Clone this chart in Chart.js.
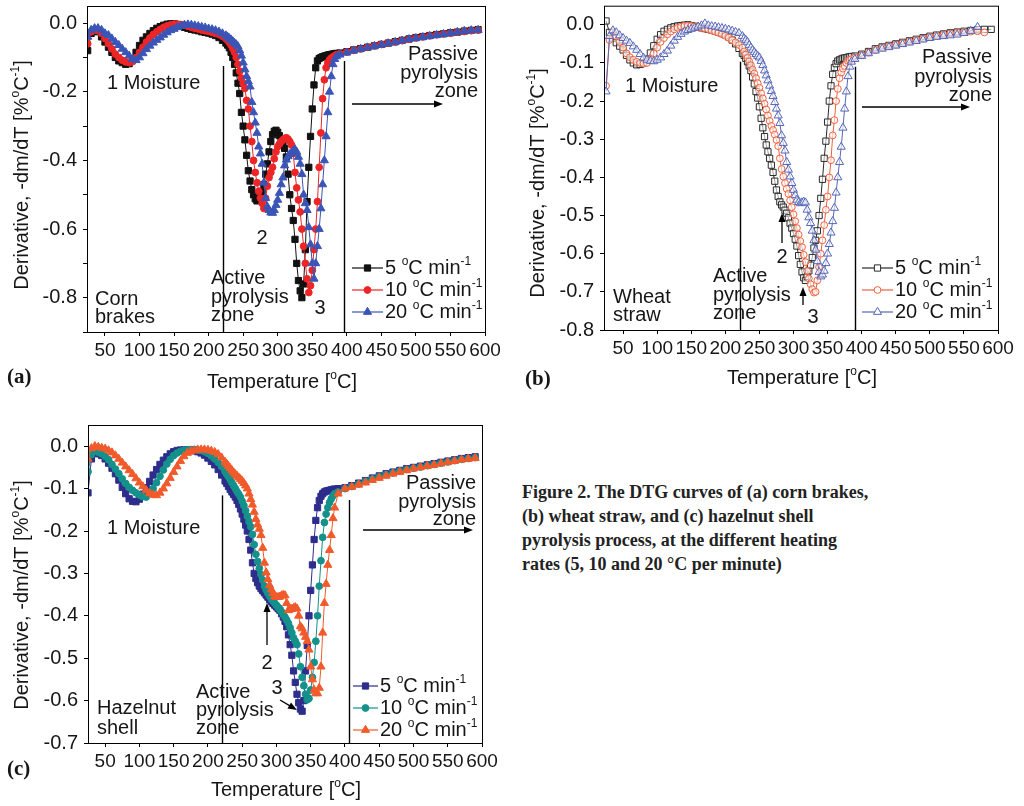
<!DOCTYPE html>
<html>
<head>
<meta charset="utf-8">
<script src="https://cdn.jsdelivr.net/npm/chart.js@4.4.0/dist/chart.umd.min.js"></script>
<style>
  body { margin: 0; background: #fff; width: 1024px; height: 806px; position: relative; overflow: hidden; }
  canvas { position: absolute; }
  #caption { position: absolute; left: 522px; top: 480px; font: bold 18px "Liberation Serif", "Times New Roman", serif; line-height: 24px; color: #222; }
</style>
</head>
<body>
<canvas id="chartA" width="510" height="400" style="left:0;top:0"></canvas>
<canvas id="chartB" width="514" height="400" style="left:510px;top:0"></canvas>
<canvas id="chartC" width="510" height="406" style="left:0;top:400px"></canvas>
<div id="caption">Figure 2. The DTG curves of (a) corn brakes,<br>(b) wheat straw, and (c) hazelnut shell<br>pyrolysis process, at the different heating<br>rates (5, 10 and 20 °C per minute)</div>
<script>
// temperature grid (°C), same for all curves
const TEMP = [
  25,30,35,40,45,50,55,60,65,70,
  75,80,85,90,95,100,105,110,115,120,
  125,130,135,140,145,150,155,160,165,170,
  175,180,185,190,195,200,205,210,215,220,
  225,
  227.5,230,232.5,235,237.5,240,242.5,245,
  247.5,250,252.5,255,257.5,260,262.5,265,
  267.5,270,272.5,275,277.5,280,282.5,285,
  287.5,290,292.5,295,297.5,300,302.5,305,
  307.5,310,312.5,315,317.5,320,322.5,325,
  327.5,330,332.5,335,337.5,340,342.5,345,
  347.5,350,352.5,355,357.5,360,362.5,365,
  367.5,370,372.5,375,377.5,380,382.5,385,
  390,400,410,420,430,440,450,460,470,480,
  490,500,510,520,530,540,550,560,570,580,
  590
];

const RATES = ['5', '10', '20'];
const X_TICKS = [50,100,150,200,250,300,350,400,450,500,550,600];
const Y_TICKS_A = [0,-0.1,-0.2,-0.3,-0.4,-0.5,-0.6,-0.7,-0.8,-0.9];
const Y_TICKS_B = [0,-0.05,-0.1,-0.15,-0.2,-0.25,-0.3,-0.35,-0.4,-0.45,-0.5,-0.55,-0.6,-0.65,-0.7,-0.75,-0.8];
const Y_TICKS_C = [0,-0.05,-0.1,-0.15,-0.2,-0.25,-0.3,-0.35,-0.4,-0.45,-0.5,-0.55,-0.6,-0.65,-0.7];

// (a) corn brakes
const CORN_5 = [
  -0.08,-0.03,-0.02,-0.025,-0.04,-0.055,-0.07,-0.085,-0.1,-0.11,
  -0.115,-0.12,-0.118,-0.105,-0.085,-0.065,-0.05,-0.04,-0.03,-0.022,
  -0.015,-0.01,-0.006,-0.003,-0.002,-0.002,-0.004,-0.008,-0.012,-0.015,
  -0.018,-0.02,-0.022,-0.025,-0.027,-0.029,-0.032,-0.036,-0.042,-0.05,
  -0.058,
  -0.064,-0.072,-0.085,-0.1,-0.12,-0.145,-0.175,-0.205,
  -0.26,-0.3,-0.34,-0.385,-0.43,-0.46,-0.485,-0.5,
  -0.512,-0.518,-0.515,-0.505,-0.49,-0.47,-0.44,-0.41,
  -0.375,-0.345,-0.325,-0.315,-0.312,-0.318,-0.328,-0.34,
  -0.35,-0.365,-0.39,-0.44,-0.5,-0.54,-0.575,-0.63,
  -0.7,-0.75,-0.78,-0.8,-0.76,-0.66,-0.52,-0.42,
  -0.33,-0.25,-0.18,-0.13,-0.11,-0.103,-0.1,-0.098,
  -0.096,-0.095,-0.093,-0.092,-0.091,-0.09,-0.089,-0.088,
  -0.087,-0.083,-0.078,-0.074,-0.07,-0.066,-0.062,-0.058,-0.054,-0.05,
  -0.046,-0.042,-0.039,-0.036,-0.033,-0.031,-0.028,-0.026,-0.023,-0.021,
  -0.019
];
const CORN_10 = [
  -0.06,-0.025,-0.02,-0.022,-0.03,-0.045,-0.06,-0.075,-0.09,-0.1,
  -0.108,-0.113,-0.115,-0.112,-0.1,-0.085,-0.07,-0.055,-0.043,-0.033,
  -0.025,-0.018,-0.012,-0.008,-0.005,-0.003,-0.003,-0.004,-0.006,-0.009,
  -0.012,-0.015,-0.017,-0.02,-0.022,-0.024,-0.027,-0.03,-0.033,-0.038,
  -0.045,
  -0.05,-0.056,-0.064,-0.074,-0.085,-0.1,-0.12,-0.14,
  -0.16,-0.175,-0.19,-0.225,-0.25,-0.3,-0.345,-0.4,
  -0.435,-0.465,-0.49,-0.51,-0.525,-0.54,-0.51,-0.475,
  -0.45,-0.435,-0.42,-0.395,-0.375,-0.36,-0.352,-0.345,
  -0.34,-0.336,-0.334,-0.338,-0.345,-0.355,-0.38,-0.435,
  -0.48,-0.515,-0.55,-0.6,-0.65,-0.7,-0.745,-0.785,
  -0.765,-0.72,-0.66,-0.6,-0.52,-0.42,-0.32,-0.22,
  -0.165,-0.13,-0.115,-0.107,-0.102,-0.098,-0.095,-0.092,
  -0.089,-0.084,-0.079,-0.075,-0.07,-0.066,-0.062,-0.058,-0.055,-0.051,
  -0.047,-0.043,-0.04,-0.037,-0.034,-0.031,-0.029,-0.026,-0.024,-0.022,
  -0.02
];
const CORN_20 = [
  -0.04,-0.02,-0.015,-0.015,-0.02,-0.03,-0.035,-0.045,-0.055,-0.064,
  -0.075,-0.085,-0.095,-0.105,-0.108,-0.1,-0.088,-0.076,-0.066,-0.057,
  -0.049,-0.042,-0.034,-0.027,-0.021,-0.017,-0.012,-0.008,-0.005,-0.004,
  -0.005,-0.007,-0.009,-0.011,-0.013,-0.016,-0.018,-0.021,-0.025,-0.03,
  -0.036,
  -0.04,-0.044,-0.048,-0.053,-0.058,-0.062,-0.068,-0.08,
  -0.095,-0.115,-0.135,-0.155,-0.17,-0.185,-0.23,-0.26,
  -0.29,-0.32,-0.36,-0.38,-0.41,-0.465,-0.51,-0.535,
  -0.545,-0.552,-0.553,-0.545,-0.53,-0.515,-0.495,-0.47,
  -0.45,-0.415,-0.398,-0.388,-0.382,-0.378,-0.372,-0.368,
  -0.375,-0.39,-0.41,-0.44,-0.5,-0.525,-0.545,-0.595,
  -0.645,-0.7,-0.745,-0.7,-0.65,-0.6,-0.54,-0.47,
  -0.4,-0.33,-0.26,-0.2,-0.155,-0.12,-0.105,-0.097,
  -0.092,-0.086,-0.08,-0.075,-0.071,-0.067,-0.063,-0.059,-0.055,-0.051,
  -0.047,-0.044,-0.041,-0.038,-0.035,-0.032,-0.029,-0.026,-0.023,-0.021,
  -0.02
];

// (b) wheat straw
const WHEAT_5 = [
  0.01,-0.02,-0.035,-0.047,-0.056,-0.066,-0.08,-0.092,-0.1,-0.105,
  -0.104,-0.1,-0.09,-0.074,-0.055,-0.038,-0.026,-0.017,-0.012,-0.008,
  -0.005,-0.003,-0.002,-0.001,0,-0.002,-0.004,-0.006,-0.008,-0.01,
  -0.012,-0.014,-0.016,-0.019,-0.022,-0.026,-0.032,-0.04,-0.05,-0.062,
  -0.075,
  -0.08,-0.088,-0.097,-0.108,-0.12,-0.137,-0.155,-0.175,
  -0.192,-0.215,-0.245,-0.27,-0.293,-0.315,-0.333,-0.35,
  -0.368,-0.387,-0.41,-0.433,-0.45,-0.464,-0.472,-0.478,
  -0.486,-0.494,-0.506,-0.52,-0.533,-0.547,-0.562,-0.58,
  -0.605,-0.628,-0.648,-0.663,-0.67,-0.66,-0.645,-0.63,
  -0.61,-0.585,-0.565,-0.54,-0.5,-0.455,-0.405,-0.35,
  -0.305,-0.255,-0.2,-0.16,-0.13,-0.112,-0.102,-0.095,
  -0.092,-0.09,-0.088,-0.087,-0.086,-0.085,-0.084,-0.083,
  -0.082,-0.077,-0.07,-0.063,-0.058,-0.054,-0.05,-0.046,-0.042,-0.038,
  -0.034,-0.03,-0.027,-0.024,-0.021,-0.019,-0.017,-0.015,-0.013,-0.012,
  -0.012
];
const WHEAT_10 = [
  -0.16,-0.04,-0.02,-0.03,-0.045,-0.06,-0.075,-0.085,-0.092,-0.097,
  -0.1,-0.102,-0.1,-0.09,-0.075,-0.06,-0.045,-0.035,-0.025,-0.018,
  -0.012,-0.008,-0.005,-0.003,-0.002,-0.003,-0.004,-0.006,-0.008,-0.01,
  -0.012,-0.015,-0.018,-0.021,-0.025,-0.029,-0.034,-0.04,-0.046,-0.053,
  -0.06,
  -0.07,-0.078,-0.087,-0.096,-0.106,-0.117,-0.128,-0.14,
  -0.153,-0.165,-0.18,-0.193,-0.207,-0.222,-0.238,-0.252,
  -0.265,-0.276,-0.288,-0.302,-0.318,-0.35,-0.378,-0.398,
  -0.415,-0.43,-0.443,-0.46,-0.478,-0.497,-0.515,-0.533,
  -0.55,-0.567,-0.583,-0.603,-0.622,-0.645,-0.665,-0.68,
  -0.693,-0.702,-0.7,-0.67,-0.635,-0.6,-0.565,-0.525,
  -0.485,-0.45,-0.4,-0.355,-0.29,-0.25,-0.2,-0.168,
  -0.14,-0.125,-0.115,-0.108,-0.1,-0.095,-0.092,-0.09,
  -0.086,-0.08,-0.073,-0.066,-0.06,-0.056,-0.052,-0.048,-0.044,-0.04,
  -0.036,-0.032,-0.029,-0.026,-0.023,-0.021,-0.019,-0.018,-0.017,-0.02,
  null
];
const WHEAT_20 = [
  -0.175,-0.03,-0.015,-0.02,-0.028,-0.035,-0.042,-0.048,-0.057,-0.066,
  -0.077,-0.087,-0.092,-0.095,-0.096,-0.092,-0.086,-0.077,-0.068,-0.055,
  -0.042,-0.032,-0.024,-0.018,-0.014,-0.011,-0.008,-0.005,-0.002,0.003,
  -0.002,-0.004,-0.005,-0.007,-0.009,-0.011,-0.013,-0.016,-0.019,-0.022,
  -0.03,
  -0.036,-0.04,-0.045,-0.053,-0.06,-0.066,-0.072,-0.077,
  -0.082,-0.086,-0.095,-0.106,-0.12,-0.133,-0.146,-0.16,
  -0.174,-0.187,-0.203,-0.22,-0.238,-0.258,-0.29,-0.31,
  -0.33,-0.36,-0.38,-0.398,-0.415,-0.433,-0.447,-0.459,
  -0.465,-0.468,-0.466,-0.464,-0.466,-0.485,-0.505,-0.52,
  -0.54,-0.565,-0.59,-0.62,-0.648,-0.66,-0.655,-0.645,
  -0.625,-0.6,-0.575,-0.545,-0.515,-0.48,-0.44,-0.4,
  -0.36,-0.32,-0.27,-0.22,-0.175,-0.135,-0.11,-0.097,
  -0.09,-0.082,-0.075,-0.068,-0.063,-0.059,-0.055,-0.051,-0.047,-0.043,
  -0.039,-0.035,-0.032,-0.03,-0.028,-0.026,-0.022,-0.016,-0.006,null,
  null
];

// (c) hazelnut shell
const HAZEL_5 = [
  -0.11,-0.03,-0.015,-0.018,-0.022,-0.03,-0.04,-0.052,-0.065,-0.08,
  -0.097,-0.112,-0.124,-0.13,-0.131,-0.125,-0.113,-0.098,-0.083,-0.068,
  -0.055,-0.043,-0.033,-0.025,-0.018,-0.013,-0.01,-0.009,-0.009,-0.009,
  -0.009,-0.011,-0.013,-0.016,-0.021,-0.028,-0.036,-0.044,-0.055,-0.068,
  -0.082,
  -0.088,-0.095,-0.102,-0.108,-0.114,-0.12,-0.128,-0.137,
  -0.148,-0.16,-0.172,-0.186,-0.2,-0.22,-0.245,-0.275,
  -0.3,-0.312,-0.322,-0.33,-0.336,-0.341,-0.346,-0.351,
  -0.356,-0.362,-0.367,-0.371,-0.375,-0.379,-0.383,-0.387,
  -0.395,-0.403,-0.413,-0.426,-0.445,-0.468,-0.493,-0.53,
  -0.557,-0.585,-0.605,-0.62,-0.625,-0.6,-0.53,-0.47,
  -0.4,-0.34,-0.28,-0.22,-0.175,-0.145,-0.128,-0.118,
  -0.112,-0.108,-0.106,-0.105,-0.104,-0.103,-0.102,-0.101,
  -0.1,-0.098,-0.093,-0.087,-0.081,-0.075,-0.07,-0.065,-0.061,-0.057,
  -0.053,-0.05,-0.047,-0.044,-0.041,-0.038,-0.035,-0.032,-0.029,-0.027,
  -0.025
];
const HAZEL_10 = [
  -0.06,-0.02,-0.012,-0.014,-0.018,-0.024,-0.032,-0.043,-0.054,-0.065,
  -0.077,-0.088,-0.097,-0.104,-0.11,-0.115,-0.119,-0.12,-0.112,-0.1,
  -0.086,-0.071,-0.056,-0.042,-0.031,-0.022,-0.016,-0.012,-0.01,-0.009,
  -0.008,-0.008,-0.009,-0.01,-0.013,-0.017,-0.023,-0.03,-0.038,-0.048,
  -0.06,
  -0.066,-0.072,-0.079,-0.086,-0.093,-0.1,-0.107,-0.113,
  -0.12,-0.13,-0.14,-0.152,-0.165,-0.178,-0.19,-0.208,
  -0.232,-0.255,-0.272,-0.288,-0.303,-0.316,-0.33,-0.339,
  -0.347,-0.354,-0.36,-0.365,-0.37,-0.375,-0.38,-0.385,
  -0.391,-0.397,-0.403,-0.41,-0.418,-0.428,-0.44,-0.452,
  -0.46,-0.468,-0.49,-0.52,-0.545,-0.565,-0.585,-0.598,
  -0.595,-0.575,-0.545,-0.51,-0.46,-0.4,-0.33,-0.27,
  -0.215,-0.18,-0.16,-0.145,-0.133,-0.124,-0.117,-0.112,
  -0.108,-0.1,-0.095,-0.089,-0.083,-0.077,-0.072,-0.067,-0.063,-0.059,
  -0.055,-0.052,-0.049,-0.046,-0.043,-0.04,-0.037,-0.034,-0.031,-0.029,
  -0.027
];
const HAZEL_20 = [
  -0.03,-0.005,0,-0.002,-0.004,-0.006,-0.01,-0.015,-0.022,-0.03,
  -0.039,-0.048,-0.057,-0.066,-0.076,-0.086,-0.095,-0.104,-0.111,-0.115,
  -0.116,-0.11,-0.1,-0.088,-0.075,-0.061,-0.048,-0.035,-0.024,-0.016,
  -0.012,-0.01,-0.008,-0.008,-0.008,-0.009,-0.011,-0.014,-0.019,-0.027,
  -0.037,
  -0.042,-0.047,-0.052,-0.057,-0.062,-0.066,-0.07,-0.074,
  -0.078,-0.082,-0.087,-0.093,-0.1,-0.112,-0.125,-0.138,
  -0.155,-0.172,-0.185,-0.195,-0.21,-0.24,-0.275,-0.298,
  -0.314,-0.328,-0.338,-0.347,-0.355,-0.356,-0.356,-0.355,
  -0.352,-0.351,-0.352,-0.37,-0.387,-0.385,-0.384,-0.382,
  -0.38,-0.383,-0.4,-0.425,-0.43,-0.44,-0.45,-0.46,
  -0.48,-0.52,-0.55,-0.575,-0.583,-0.583,-0.57,-0.52,
  -0.44,-0.37,-0.325,-0.28,-0.245,-0.21,-0.17,-0.145,
  -0.112,-0.1,-0.096,-0.091,-0.086,-0.08,-0.075,-0.07,-0.065,-0.061,
  -0.057,-0.053,-0.05,-0.047,-0.044,-0.041,-0.038,-0.035,-0.032,-0.03,
  -0.028
];

const FONT = '"Liberation Sans", Arial, sans-serif';
const INK = '#161616';

// strings starting with ^ are drawn as superscript
function drawRich(ctx, parts, x, y, size, align) {
  const sup = Math.round(size * 0.62);
  let w = 0;
  parts.forEach(p => {
    const s = p[0] === '^';
    ctx.font = (s ? sup : size) + 'px ' + FONT;
    w += ctx.measureText(s ? p.slice(1) : p).width;
  });
  let cx = align === 'center' ? x - w / 2 : align === 'right' ? x - w : x;
  ctx.textAlign = 'left';
  ctx.textBaseline = 'middle';
  parts.forEach(p => {
    const s = p[0] === '^';
    const t = s ? p.slice(1) : p;
    ctx.font = (s ? sup : size) + 'px ' + FONT;
    ctx.fillText(t, cx, s ? y - size * 0.33 : y);
    cx += ctx.measureText(t).width;
  });
}

function arrow(ctx, x0, y0, x1, y1) {
  const a = Math.atan2(y1 - y0, x1 - x0), L = 9, W = 3.5;
  ctx.beginPath();
  ctx.moveTo(x0, y0);
  ctx.lineTo(x1 - Math.cos(a) * L * 0.8, y1 - Math.sin(a) * L * 0.8);
  ctx.stroke();
  ctx.beginPath();
  ctx.moveTo(x1, y1);
  ctx.lineTo(x1 - L * Math.cos(a) + W * Math.sin(a), y1 - L * Math.sin(a) - W * Math.cos(a));
  ctx.lineTo(x1 - L * Math.cos(a) - W * Math.sin(a), y1 - L * Math.sin(a) + W * Math.cos(a));
  ctx.closePath();
  ctx.fill();
}

function annotations(cfg) {
  return {
    id: 'annot',
    afterDatasetsDraw(chart) {
      const ctx = chart.ctx, a = chart.chartArea;
      const xs = chart.scales.x, ys = chart.scales.y;
      ctx.save();
      ctx.strokeStyle = '#000';
      ctx.fillStyle = INK;
      ctx.lineWidth = 1;
      ctx.strokeRect(a.left + 0.5, a.top + 0.5, a.right - a.left, a.bottom - a.top);

      // zone boundaries
      ctx.lineWidth = 1.4;
      cfg.zoneLines.forEach(([t, v]) => {
        const px = Math.round(xs.getPixelForValue(t)) + 0.5;
        ctx.beginPath();
        ctx.moveTo(px, ys.getPixelForValue(v));
        ctx.lineTo(px, a.bottom);
        ctx.stroke();
      });
      ctx.lineWidth = 1.3;
      ctx.fillStyle = '#000';
      cfg.arrows.forEach(r => arrow(ctx, r[0], r[1], r[2], r[3]));

      ctx.fillStyle = INK;
      cfg.texts.forEach(([t, x, y, al]) => drawRich(ctx, [t], x, y, 20, al));

      // legend
      const [l0, l1, tx, rows] = cfg.legend;
      cfg.styles.forEach((s, i) => {
        const y = rows[i];
        ctx.strokeStyle = s.color;
        ctx.lineWidth = 1.2;
        ctx.beginPath();
        ctx.moveTo(l0, y);
        ctx.lineTo(l1, y);
        ctx.stroke();
        ctx.fillStyle = s.fill ? s.color : '#fff';
        ctx.lineWidth = 1;
        Chart.helpers.drawPoint(ctx, { pointStyle: s.shape, radius: s.r, borderWidth: 1, rotation: 0 }, (l0 + l1) / 2, y);
        ctx.fillStyle = INK;
        drawRich(ctx, [RATES[i] + ' ', '^o', 'C min', '^-1'], tx, y, 20, 'left');
      });

      // axis titles and panel tag
      ctx.fillStyle = INK;
      drawRich(ctx, ['Temperature [', '^o', 'C]'], cfg.xTitle[0], cfg.xTitle[1], 20, 'center');
      ctx.save();
      ctx.translate(cfg.yTitle[0], cfg.yTitle[1]);
      ctx.rotate(-Math.PI / 2);
      drawRich(ctx, ['Derivative, -dm/dT [%', '^o', 'C', '^-1', ']'], 0, 0, 20, 'center');
      ctx.restore();
      ctx.font = 'bold 21px "Liberation Serif", serif';
      ctx.textAlign = 'left';
      ctx.textBaseline = 'middle';
      ctx.fillText(cfg.tag[0], cfg.tag[1], cfg.tag[2]);
      ctx.restore();
    }
  };
}

function makePanel(id, cfg) {
  const [L, T, R, B] = cfg.area;
  const datasets = cfg.data.map((arr, i) => {
    const s = cfg.styles[i];
    return {
      label: RATES[i],
      data: TEMP.map((t, k) => ({ x: t, y: arr[k] })),
      borderColor: s.color,
      borderWidth: 1,
      pointStyle: s.shape,
      pointRadius: s.r,
      pointBorderWidth: 1,
      pointBorderColor: s.color,
      pointBackgroundColor: s.fill ? s.color : 'rgba(255,255,255,0.55)',
      tension: 0,
      order: 2 - i
    };
  });
  new Chart(document.getElementById(id), {
    type: 'line',
    data: { datasets },
    plugins: [annotations(cfg)],
    options: {
      responsive: false,
      animation: false,
      events: [],
      layout: { padding: { left: 0, top: T, right: cfg.width - R, bottom: 0 } },
      plugins: { legend: { display: false }, tooltip: { enabled: false } },
      scales: {
        x: {
          type: 'linear', min: cfg.xMin, max: 600,
          afterBuildTicks: sc => { sc.ticks = X_TICKS.map(v => ({ value: v })); },
          afterFit: sc => { sc.height = cfg.height - B; sc.paddingLeft = 0; sc.paddingRight = 0; },
          grid: { drawOnChartArea: false, drawTicks: true, tickLength: 4, color: '#000' },
          border: { display: false },
          ticks: { autoSkip: false, maxRotation: 0, minRotation: 0, padding: 3, color: INK, font: { family: FONT, size: 19 } }
        },
        y: {
          type: 'linear', min: cfg.yMin, max: 0.05,
          afterBuildTicks: sc => { sc.ticks = cfg.yTicks.map(v => ({ value: v })); },
          afterFit: sc => { sc.width = L; sc.paddingTop = 0; sc.paddingBottom = 0; },
          grid: { drawOnChartArea: false, drawTicks: true, tickLength: 4, color: '#000' },
          border: { display: false },
          ticks: {
            padding: 6, color: INK, font: { family: FONT, size: 20 },
            callback: v => {
              const k = Math.round(v / cfg.yLabelStep);
              return Math.abs(v / cfg.yLabelStep - k) < 1e-6 ? (k * cfg.yLabelStep).toFixed(1) : '';
            }
          }
        }
      }
    }
  });
}

makePanel('chartA', {
  width: 510, height: 400, area: [87, 6, 485, 332], xMin: 24, yMin: -0.9,
  yTicks: Y_TICKS_A, yLabelStep: 0.2,
  data: [CORN_5, CORN_10, CORN_20],
  styles: [
    { color: '#111111', shape: 'rect', r: 4.4, fill: true },
    { color: '#ee2526', shape: 'circle', r: 3.4, fill: true },
    { color: '#3a55b6', shape: 'triangle', r: 4.7, fill: true }
  ],
  zoneLines: [[221, -0.125], [396, -0.11]],
  arrows: [[352, 104, 443, 104]],
  texts: [
    ['1 Moisture', 107, 83, 'left'],
    ['Passive', 478, 54, 'right'], ['pyrolysis', 478, 73, 'right'], ['zone', 478, 91, 'right'],
    ['2', 262, 238, 'center'],
    ['Active', 211, 278, 'left'], ['pyrolysis', 211, 297, 'left'], ['zone', 211, 315, 'left'],
    ['3', 320, 308, 'center'],
    ['Corn', 95, 299, 'left'], ['brakes', 95, 317, 'left']
  ],
  legend: [352, 383, 385, [268, 290, 312]],
  xTitle: [282, 382], yTitle: [22, 175], tag: ['(a)', 7, 378]
});

makePanel('chartB', {
  width: 514, height: 400, area: [94, 5, 488, 330], xMin: 22, yMin: -0.8,
  yTicks: Y_TICKS_B, yLabelStep: 0.1,
  data: [WHEAT_5, WHEAT_10, WHEAT_20],
  styles: [
    { color: '#2a2a2a', shape: 'rect', r: 4.4, fill: false },
    { color: '#f0603c', shape: 'circle', r: 3.4, fill: false },
    { color: '#5566b8', shape: 'triangle', r: 4.7, fill: false }
  ],
  zoneLines: [[221.5, -0.097], [390, -0.11]],
  arrows: [[352, 107, 460, 107], [272, 243, 272, 213], [293, 305, 293, 287]],
  texts: [
    ['1 Moisture', 115, 86, 'left'],
    ['Passive', 482, 57, 'right'], ['pyrolysis', 482, 77, 'right'], ['zone', 482, 95, 'right'],
    ['2', 272, 257, 'center'],
    ['Active', 203, 276, 'left'], ['pyrolysis', 203, 295, 'left'], ['zone', 203, 313, 'left'],
    ['3', 303, 317, 'center'],
    ['Wheat', 103, 297, 'left'], ['straw', 103, 315, 'left']
  ],
  legend: [352, 383, 385, [268, 290, 312]],
  xTitle: [292, 378], yTitle: [28, 183], tag: ['(b)', 15, 380]
});

makePanel('chartC', {
  width: 510, height: 406, area: [88, 25, 482, 343], xMin: 25, yMin: -0.7,
  yTicks: Y_TICKS_C, yLabelStep: 0.1,
  data: [HAZEL_5, HAZEL_10, HAZEL_20],
  styles: [
    { color: '#2e2d8c', shape: 'rect', r: 4.4, fill: true },
    { color: '#13918a', shape: 'circle', r: 3.4, fill: true },
    { color: '#f15a2b', shape: 'triangle', r: 4.7, fill: true }
  ],
  zoneLines: [[220.5, -0.116], [405.7, -0.127]],
  arrows: [[363, 130, 473, 130], [267, 245, 267, 203], [280, 300, 297, 310]],
  texts: [
    ['1 Moisture', 107, 128, 'left'],
    ['Passive', 476, 83, 'right'], ['pyrolysis', 476, 102, 'right'], ['zone', 476, 119, 'right'],
    ['2', 267, 263, 'center'],
    ['Active', 196, 292, 'left'], ['pyrolysis', 196, 310, 'left'], ['zone', 196, 328, 'left'],
    ['3', 277, 288, 'center'],
    ['Hazelnut', 97, 308, 'left'], ['shell', 97, 328, 'left']
  ],
  legend: [353, 378, 380, [286, 308, 330]],
  xTitle: [286, 390], yTitle: [22, 195], tag: ['(c)', 7, 370]
});
</script>
</body>
</html>
